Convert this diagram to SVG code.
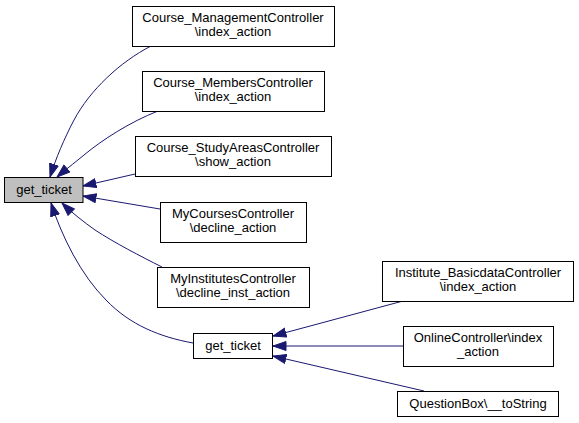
<svg xmlns="http://www.w3.org/2000/svg" width="579" height="423" viewBox="0 0 579 423">
<defs>
<style>
.node rect{fill:#fff;stroke:#000;stroke-width:1}
.node.cur rect{fill:#bfbfbf}
.node text{font-family:"Liberation Sans",Arial,Helvetica,sans-serif;font-size:13px;fill:#000;text-anchor:middle}
.edges path{fill:none;stroke:#191970;stroke-width:1;marker-end:url(#arr)}
</style>
<marker id="arr" markerUnits="userSpaceOnUse" markerWidth="14" markerHeight="11" refX="13.5" refY="5" orient="auto">
<path d="M0.5,0.5 L13.5,5 L0.5,9.5 z" fill="#191970" stroke="#191970" stroke-width="1"/>
</marker>
</defs>
<rect width="579" height="423" fill="#fff"/>
<g class="edges" id="edges">
<path d="M151,46 C120,62 90,90 74,120 C64,139 56,158 50,177"/>
<path d="M158,111 C130,122 102,140 84,155 C73,164 64,171 57,177"/>
<path d="M135,174 L83,186"/>
<path d="M160,209 L83,196"/>
<path d="M162,267 C140,256 115,243 95,230 C84,222 72,213 62,203"/>
<path d="M193,343 C160,337 130,325 106,300 C81,275 62,237 51,203"/>
<path d="M403,301 L273,336"/>
<path d="M403,346 L273,346"/>
<path d="M424,391 L273,356"/>
</g>
<g class="node cur" id="node_get_ticket">
<rect x="4.5" y="177.5" width="78.5" height="25"/>
<text x="44" y="194">get_ticket</text>
</g>
<g class="node" id="node_course_management">
<rect x="132.5" y="6.5" width="202" height="40"/>
<text x="233" y="22">Course_ManagementController</text>
<text x="233" y="36">\index_action</text>
</g>
<g class="node" id="node_course_members">
<rect x="142.5" y="71.5" width="182" height="40"/>
<text x="233" y="87">Course_MembersController</text>
<text x="233" y="101">\index_action</text>
</g>
<g class="node" id="node_course_studyareas">
<rect x="135.5" y="136.5" width="196" height="40"/>
<text x="233" y="152">Course_StudyAreasController</text>
<text x="233" y="166">\show_action</text>
</g>
<g class="node" id="node_mycourses">
<rect x="160.5" y="202.5" width="146" height="40"/>
<text x="233" y="218">MyCoursesController</text>
<text x="233" y="232">\decline_action</text>
</g>
<g class="node" id="node_myinstitutes">
<rect x="157.5" y="267.5" width="152" height="40"/>
<text x="233" y="283">MyInstitutesController</text>
<text x="233" y="297">\decline_inst_action</text>
</g>
<g class="node" id="node_get_ticket2">
<rect x="193.5" y="333.5" width="79" height="25"/>
<text x="233" y="350">get_ticket</text>
</g>
<g class="node" id="node_institute_basicdata">
<rect x="382.5" y="261.5" width="191" height="40"/>
<text x="478" y="277">Institute_BasicdataController</text>
<text x="478" y="291">\index_action</text>
</g>
<g class="node" id="node_online">
<rect x="403.5" y="326.5" width="150" height="40"/>
<text x="478" y="342">OnlineController\index</text>
<text x="478" y="356">_action</text>
</g>
<g class="node" id="node_questionbox">
<rect x="397.5" y="391.5" width="161" height="25"/>
<text x="478" y="408">QuestionBox\__toString</text>
</g>
</svg>
